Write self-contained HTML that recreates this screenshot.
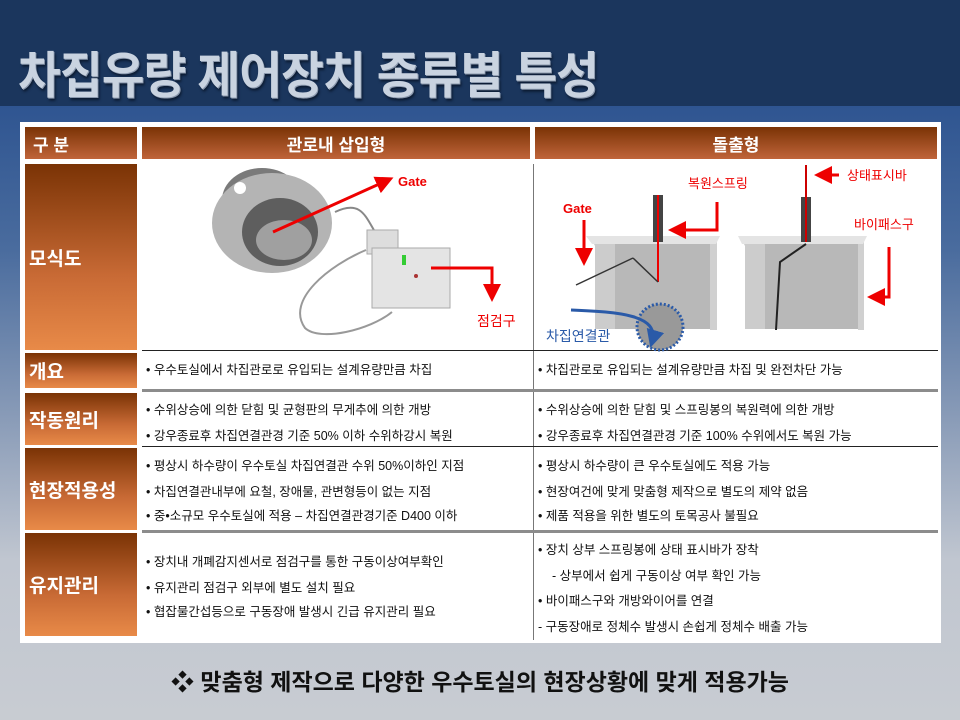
<!DOCTYPE html>
<html><head><meta charset="utf-8"><style>
*{margin:0;padding:0;box-sizing:border-box}
body{width:960px;height:720px;overflow:hidden;position:relative;font-family:"Liberation Sans","Noto Sans CJK KR",sans-serif;background:linear-gradient(#2f5591 106px,#4a6c9e 250px,#8a9cb8 420px,#c0c6d0 560px,#c8ccd2 720px)}
.top{position:absolute;left:0;top:0;width:960px;height:106px;background:#1b365d}
.title{position:absolute;left:18px;top:36px;font-size:50px;font-weight:bold;color:#c9d3e0;letter-spacing:-1px;text-shadow:1px 1px 0 #8a98ad,2px 3px 3px #0b1a30;transform:scaleX(0.93);transform-origin:left;white-space:nowrap}
.tbl{position:absolute;left:20px;top:122px;width:921px;height:521px;background:#fff}
.h{position:absolute;background:linear-gradient(#7a3305,#c0643a);color:#fff;font-weight:bold;font-size:17px;display:flex;align-items:center;justify-content:center}
.l{position:absolute;left:25px;width:112px;background:linear-gradient(#7a3305,#c86a35 60%,#e88a48);color:#fff;font-weight:bold;font-size:19px;display:flex;align-items:center;padding-left:4px}
.c{position:absolute;font-size:12.5px;color:#111;line-height:1}
.c div{position:absolute;white-space:nowrap}
.hl{position:absolute;height:3px;background:#8c8c8c}
.foot{position:absolute;left:0;width:960px;top:663px;text-align:center;font-size:23px;font-weight:bold;color:#111}
</style></head><body>
<div class="top"></div>
<div class="title">차집유량 제어장치 종류별 특성</div>
<div class="tbl"></div>
<div class="h" style="left:25px;top:127px;width:112px;height:32px;justify-content:flex-start;padding-left:8px">구 분</div>
<div class="h" style="left:142px;top:127px;width:388px;height:32px">관로내 삽입형</div>
<div class="h" style="left:535px;top:127px;width:402px;height:32px">돌출형</div>

<div class="l" style="top:164px;height:186px">모식도</div>
<div class="l" style="top:353px;height:35px">개요</div>
<div class="l" style="top:393px;height:52px">작동원리</div>
<div class="l" style="top:448px;height:82px">현장적용성</div>
<div class="l" style="top:533px;height:103px">유지관리</div>

<div style="position:absolute;left:533px;top:164px;width:1px;height:476px;background:#777"></div>
<div class="hl" style="left:142px;top:350px;width:796px;height:1px;background:#222"></div>
<div class="hl" style="left:142px;top:389px;width:796px"></div>
<div class="hl" style="left:142px;top:446px;width:796px;height:1px;background:#222"></div>
<div class="hl" style="left:142px;top:530px;width:796px"></div>

<svg style="position:absolute;left:0;top:0" width="960" height="720">
<defs><marker id="ar" markerWidth="6" markerHeight="6" refX="4" refY="3" orient="auto"><path d="M0,0L6,3L0,6z" fill="#e00"/></marker>
<marker id="ab" markerWidth="6" markerHeight="6" refX="4" refY="3" orient="auto"><path d="M0,0L6,3L0,6z" fill="#2a5aa8"/></marker></defs>
<path d="M335,212 C360,200 365,215 375,232" stroke="#888" stroke-width="2" fill="none"/>
<path d="M366,250 C330,265 285,300 305,328 C320,342 370,330 392,312" stroke="#999" stroke-width="2" fill="none"/>
<ellipse cx="262" cy="200" rx="40" ry="32" fill="#7a7a7a"/>
<ellipse cx="272" cy="223" rx="60" ry="50" fill="#b4b4b4"/>
<ellipse cx="280" cy="232" rx="38" ry="34" fill="#5e5e5e"/>
<ellipse cx="284" cy="240" rx="28" ry="20" fill="#a0a0a0"/>
<circle cx="240" cy="188" r="6" fill="#fff"/>
<rect x="367" y="230" width="31" height="24" fill="#ddd" stroke="#aaa"/>
<rect x="372" y="248" width="78" height="60" fill="#e4e4e4" stroke="#aaa"/>
<rect x="402" y="255" width="4" height="10" fill="#3c3"/>
<circle cx="416" cy="276" r="2" fill="#a33"/>
<line x1="273" y1="232" x2="388" y2="180" stroke="#e00" stroke-width="3" marker-end="url(#ar)"/>
<text x="398" y="186" fill="#e00" font-size="13" font-weight="bold">Gate</text>
<path d="M431,268 H492 V296" stroke="#e00" stroke-width="3" fill="none" marker-end="url(#ar)"/>
<text x="477" y="326" fill="#e00" font-size="14">점검구</text>
<polygon points="590,237 717,237 717,330 710,330 710,246 595,246" fill="#d0d0d0"/>
<rect x="595" y="244" width="115" height="85" fill="#b8b8b8"/>
<rect x="595" y="244" width="20" height="85" fill="#ccc"/>
<polygon points="586,236 720,236 716,244 592,244" fill="#e4e4e4"/>
<polygon points="740,237 864,237 864,330 858,330 858,246 745,246" fill="#d0d0d0"/>
<rect x="745" y="244" width="113" height="85" fill="#b8b8b8"/>
<rect x="745" y="244" width="20" height="85" fill="#ccc"/>
<polygon points="738,236 867,236 863,244 742,244" fill="#e4e4e4"/>
<rect x="653" y="195" width="10" height="47" fill="#444"/>
<line x1="658" y1="195" x2="658" y2="282" stroke="#e00" stroke-width="2"/>
<line x1="576" y1="285" x2="633" y2="258" stroke="#333" stroke-width="1.5"/>
<line x1="633" y1="258" x2="658" y2="282" stroke="#333" stroke-width="1.5"/>
<rect x="801" y="197" width="10" height="45" fill="#444"/>
<line x1="806" y1="165" x2="806" y2="242" stroke="#c00" stroke-width="2"/>
<path d="M806,244 L780,262 L776,330" stroke="#222" stroke-width="2" fill="none"/>
<circle cx="660" cy="327" r="23" fill="#999" stroke="#2a5aa8" stroke-width="3" stroke-dasharray="2,2"/>
<path d="M571,310 C620,312 660,315 652,342" stroke="#2a5aa8" stroke-width="3" fill="none" marker-end="url(#ab)"/>
<line x1="584" y1="220" x2="584" y2="260" stroke="#e00" stroke-width="3" marker-end="url(#ar)"/>
<text x="563" y="213" fill="#e00" font-size="13" font-weight="bold">Gate</text>
<path d="M717,202 V230 H674" stroke="#e00" stroke-width="3" fill="none" marker-end="url(#ar)"/>
<text x="688" y="188" fill="#e00" font-size="13">복원스프링</text>
<line x1="839" y1="175" x2="820" y2="175" stroke="#e00" stroke-width="3" marker-end="url(#ar)"/>
<text x="847" y="180" fill="#e00" font-size="13">상태표시바</text>
<path d="M889,247 V297 H873" stroke="#e00" stroke-width="3" fill="none" marker-end="url(#ar)"/>
<text x="854" y="229" fill="#e00" font-size="13">바이패스구</text>
<text x="546" y="341" fill="#2a5aa8" font-size="14">차집연결관</text>
</svg>

<div class="c" style="left:146px;top:364px"><div>• 우수토실에서 차집관로로 유입되는 설계유량만큼 차집</div></div>
<div class="c" style="left:538px;top:364px"><div>• 차집관로로 유입되는 설계유량만큼 차집 및 완전차단 가능</div></div>
<div class="c" style="left:146px;top:404px"><div>• 수위상승에 의한 닫힘 및 균형판의 무게추에 의한 개방</div><div style="top:26px">• 강우종료후 차집연결관경 기준 50% 이하 수위하강시 복원</div></div>
<div class="c" style="left:538px;top:404px"><div>• 수위상승에 의한 닫힘 및 스프링봉의 복원력에 의한 개방</div><div style="top:26px">• 강우종료후 차집연결관경 기준 100% 수위에서도 복원 가능</div></div>
<div class="c" style="left:146px;top:460px"><div>• 평상시 하수량이 우수토실 차집연결관 수위 50%이하인 지점</div><div style="top:26px">• 차집연결관내부에 요철, 장애물, 관변형등이 없는 지점</div><div style="top:50px">• 중•소규모 우수토실에 적용 – 차집연결관경기준 D400 이하</div></div>
<div class="c" style="left:538px;top:460px"><div>• 평상시 하수량이 큰 우수토실에도 적용 가능</div><div style="top:26px">• 현장여건에 맞게 맞춤형 제작으로 별도의 제약 없음</div><div style="top:50px">• 제품 적용을 위한 별도의 토목공사 불필요</div></div>
<div class="c" style="left:146px;top:556px"><div>• 장치내 개폐감지센서로 점검구를 통한 구동이상여부확인</div><div style="top:26px">• 유지관리 점검구 외부에 별도 설치 필요</div><div style="top:50px">• 협잡물간섭등으로 구동장애 발생시 긴급 유지관리 필요</div></div>
<div class="c" style="left:538px;top:544px"><div>• 장치 상부 스프링봉에 상태 표시바가 장착</div><div style="top:26px;left:14px">- 상부에서 쉽게 구동이상 여부 확인 가능</div><div style="top:51px">• 바이패스구와 개방와이어를 연결</div><div style="top:77px">- 구동장애로 정체수 발생시 손쉽게 정체수 배출 가능</div></div>

<div class="foot">❖ 맞춤형 제작으로 다양한 우수토실의 현장상황에 맞게 적용가능</div>
</body></html>
